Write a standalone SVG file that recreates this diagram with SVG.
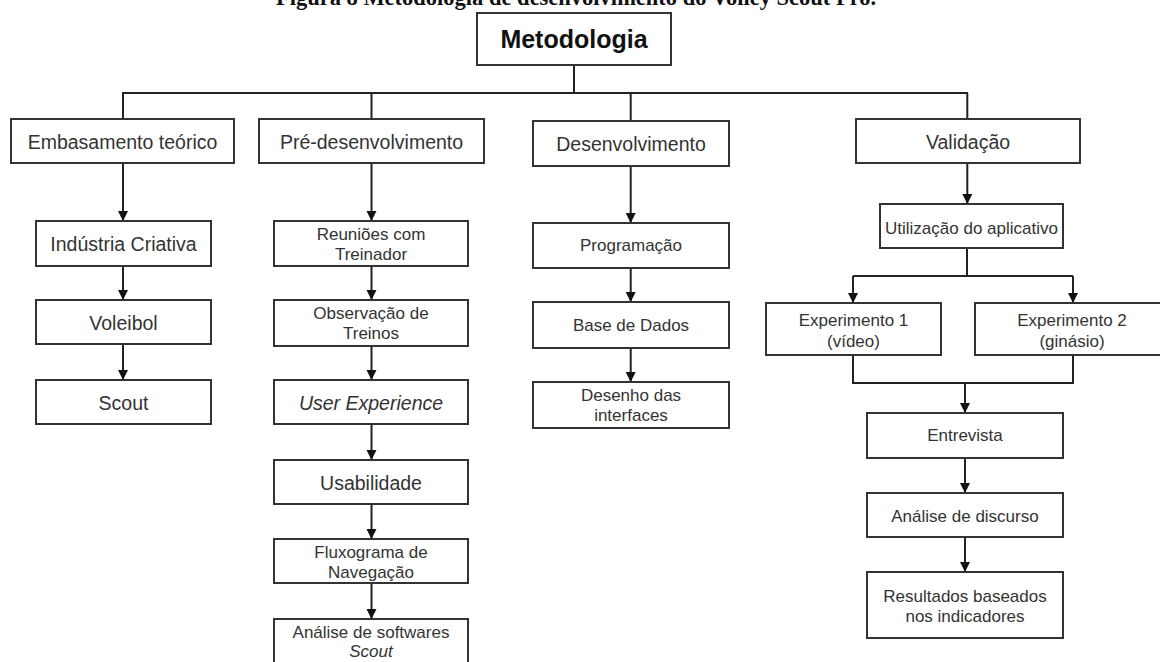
<svg xmlns="http://www.w3.org/2000/svg" width="1160" height="662" viewBox="0 0 1160 662">
<defs>
<marker id="ah" viewBox="0 0 10 10" markerWidth="10" markerHeight="11" refX="10" refY="5" orient="auto" markerUnits="userSpaceOnUse">
<path d="M0,0 L10,5 L0,10 z" fill="#111"/>
</marker>
<style>
.box{fill:#fff;stroke:#333;stroke-width:2}
.t{font-family:"Liberation Sans",Arial,sans-serif;fill:#333;text-anchor:middle}
.L{font-size:19.5px}
.S{font-size:17px}
.ln{fill:none;stroke:#222;stroke-width:2}
.ar{fill:none;stroke:#222;stroke-width:2;marker-end:url(#ah)}
</style>
</defs>
<rect width="1160" height="662" fill="#fff"/>
<text x="576" y="5" style="font-family:'Liberation Serif','Times New Roman',serif;font-weight:bold;font-size:22.5px;fill:#111;text-anchor:middle">Figura 8 Metodologia de desenvolvimento do Volley Scout Pro.</text>

<g id="connectors">
<path class="ln" d="M574,65 V93 M122,93 H968 M123,93 V119 M371.5,93 V119 M630.7,93 V121 M967.3,93 V119"/>
<path class="ar" d="M123,163 V221"/>
<path class="ar" d="M123,266 V300"/>
<path class="ar" d="M123,344 V380"/>
<path class="ar" d="M371.5,163 V221"/>
<path class="ar" d="M371.5,266 V300"/>
<path class="ar" d="M371.5,346 V380"/>
<path class="ar" d="M371.5,424 V460"/>
<path class="ar" d="M371.5,504 V539"/>
<path class="ar" d="M371.5,583 V619"/>
<path class="ar" d="M630.7,166 V223"/>
<path class="ar" d="M630.7,268 V302"/>
<path class="ar" d="M630.7,348 V382"/>
<path class="ar" d="M967.3,163 V204"/>
<path class="ln" d="M967,248 V276 M853,276 H1073"/>
<path class="ar" d="M853,276 V303"/>
<path class="ar" d="M1073,276 V303"/>
<path class="ln" d="M853,355 V383 H1073 V355"/>
<path class="ar" d="M965,383 V413"/>
<path class="ar" d="M965,458 V493"/>
<path class="ar" d="M965,537 V572"/>
</g>

<g id="n_metodologia"><rect class="box" x="477" y="13" width="194" height="52"/><text class="t" x="574" y="48" style="font-size:25px;font-weight:bold;fill:#111">Metodologia</text></g>

<g id="n_embasamento"><rect class="box" x="11" y="119" width="223" height="44"/><text class="t L" x="122.5" y="149">Embasamento teórico</text></g>
<g id="n_industria"><rect class="box" x="36" y="221" width="175" height="45"/><text class="t L" x="123.5" y="251">Indústria Criativa</text></g>
<g id="n_voleibol"><rect class="box" x="36" y="300" width="175" height="44"/><text class="t L" x="123.5" y="330">Voleibol</text></g>
<g id="n_scout"><rect class="box" x="36" y="380" width="175" height="44"/><text class="t L" x="123.5" y="410">Scout</text></g>

<g id="n_pre"><rect class="box" x="259" y="119" width="225" height="44"/><text class="t L" x="371.5" y="149">Pré-desenvolvimento</text></g>
<g id="n_reunioes"><rect class="box" x="274" y="221" width="194" height="45"/><text class="t S" x="371" y="239.5">Reuniões com</text><text class="t S" x="371" y="259.5">Treinador</text></g>
<g id="n_observacao"><rect class="box" x="274" y="300" width="194" height="46"/><text class="t S" x="371" y="318.5">Observação de</text><text class="t S" x="371" y="339">Treinos</text></g>
<g id="n_ux"><rect class="box" x="274" y="380" width="194" height="44"/><text class="t L" x="371" y="410" font-style="italic">User Experience</text></g>
<g id="n_usabilidade"><rect class="box" x="274" y="460" width="194" height="44"/><text class="t L" x="371" y="490">Usabilidade</text></g>
<g id="n_fluxograma"><rect class="box" x="274" y="539" width="194" height="44"/><text class="t S" x="371" y="558">Fluxograma de</text><text class="t S" x="371" y="578">Navegação</text></g>
<g id="n_analise_sw"><rect class="box" x="274" y="619" width="194" height="52"/><text class="t S" x="371" y="638">Análise de softwares</text><text class="t S" x="371" y="657" font-style="italic">Scout</text></g>

<g id="n_desenv"><rect class="box" x="533" y="121" width="196" height="45"/><text class="t L" x="631" y="151">Desenvolvimento</text></g>
<g id="n_programacao"><rect class="box" x="533" y="223" width="196" height="45"/><text class="t S" x="631" y="251">Programação</text></g>
<g id="n_base"><rect class="box" x="533" y="302" width="196" height="46"/><text class="t S" x="631" y="331">Base de Dados</text></g>
<g id="n_desenho"><rect class="box" x="533" y="382" width="196" height="46"/><text class="t S" x="631" y="401">Desenho das</text><text class="t S" x="631" y="421">interfaces</text></g>

<g id="n_validacao"><rect class="box" x="856" y="119" width="224" height="44"/><text class="t L" x="968" y="149">Validação</text></g>
<g id="n_utilizacao"><rect class="box" x="880" y="204" width="183" height="44"/><text class="t S" x="971.5" y="233.5">Utilização do aplicativo</text></g>
<g id="n_exp1"><rect class="box" x="766" y="303" width="175" height="52"/><text class="t S" x="853.5" y="326">Experimento 1</text><text class="t S" x="853.5" y="347">(vídeo)</text></g>
<g id="n_exp2"><rect class="box" x="975" y="303" width="194" height="52"/><text class="t S" x="1072" y="326">Experimento 2</text><text class="t S" x="1072" y="347">(ginásio)</text></g>
<g id="n_entrevista"><rect class="box" x="867" y="413" width="196" height="45"/><text class="t S" x="965" y="441">Entrevista</text></g>
<g id="n_discurso"><rect class="box" x="867" y="493" width="196" height="44"/><text class="t S" x="965" y="521.5">Análise de discurso</text></g>
<g id="n_resultados"><rect class="box" x="867" y="572" width="196" height="66"/><text class="t S" x="965" y="601.5">Resultados baseados</text><text class="t S" x="965" y="621.5">nos indicadores</text></g>
</svg>
